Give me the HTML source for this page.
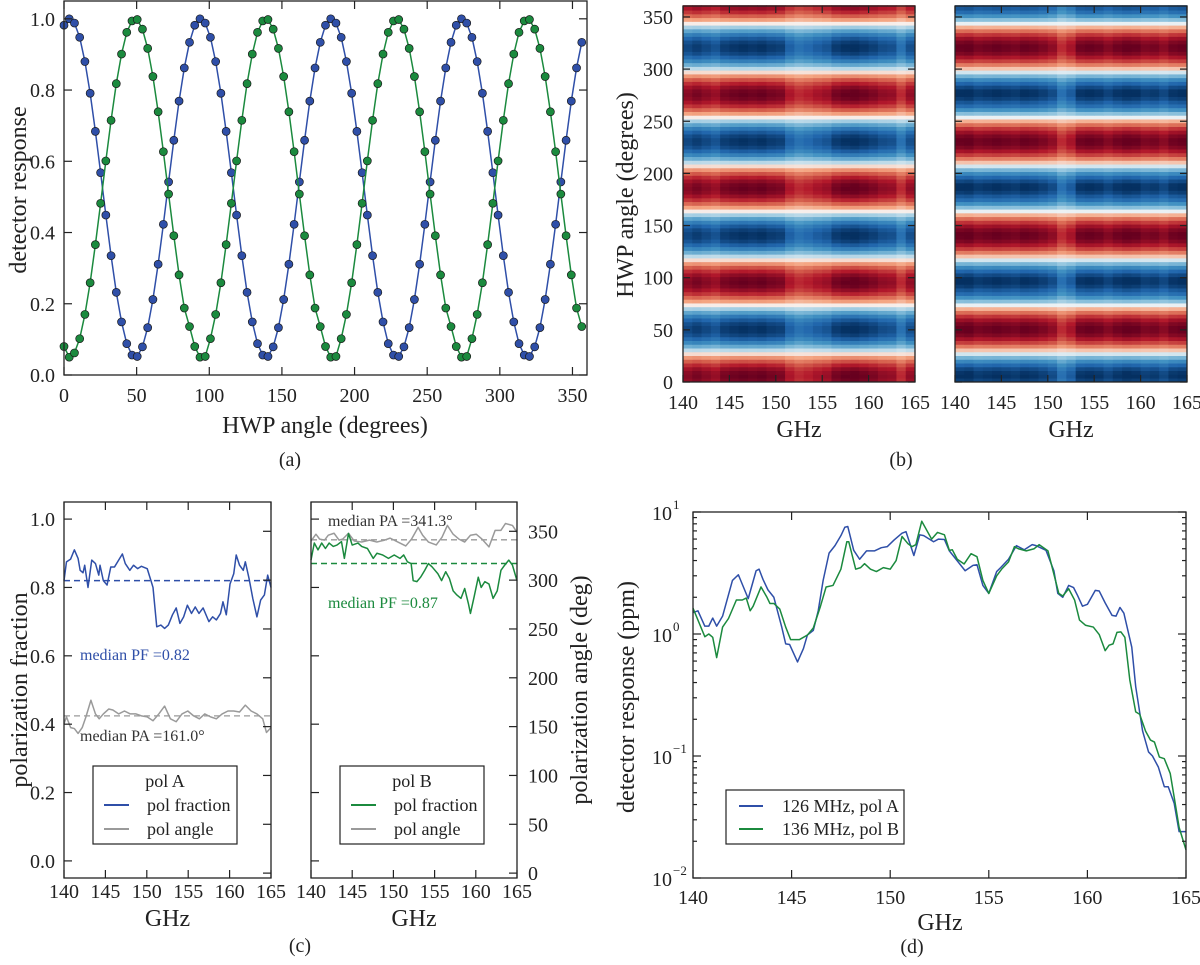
<!DOCTYPE html>
<html><head><meta charset="utf-8">
<style>
html,body{margin:0;padding:0;background:#fff;}
svg{display:block;font-family:"Liberation Serif",serif;}
</style></head>
<body>
<svg id="fig" width="1200" height="965" viewBox="0 0 1200 965" xmlns="http://www.w3.org/2000/svg"></svg>
<script>
// ---------- DATA ----------
// Panel (a): HWP angle sweep
const hwpAngles = [0,3.6,7.2,10.8,14.4,18,21.6,25.2,28.8,32.4,36,39.6,43.2,46.8,50.4,54,57.6,61.2,64.8,68.4,72,75.6,79.2,82.8,86.4,90,93.6,97.2,100.8,104.4,108,111.6,115.2,118.8,122.4,126,129.6,133.2,136.8,140.4,144,147.6,151.2,154.8,158.4,162,165.6,169.2,172.8,176.4,180,183.6,187.2,190.8,194.4,198,201.6,205.2,208.8,212.4,216,219.6,223.2,226.8,230.4,234,237.6,241.2,244.8,248.4,252,255.6,259.2,262.8,266.4,270,273.6,277.2,280.8,284.4,288,291.6,295.2,298.8,302.4,306,309.6,313.2,316.8,320.4,324,327.6,331.2,334.8,338.4,342,345.6,349.2,352.8,356.4];
const blueResp = [0.982,1.000,0.988,0.948,0.880,0.791,0.684,0.568,0.449,0.335,0.232,0.149,0.088,0.056,0.052,0.079,0.133,0.212,0.311,0.423,0.542,0.659,0.769,0.862,0.934,
0.982,1.000,0.988,0.948,0.880,0.791,0.684,0.568,0.449,0.335,0.232,0.149,0.088,0.056,0.052,0.079,0.133,0.212,0.311,0.423,0.542,0.659,0.769,0.862,0.934,
0.982,1.000,0.988,0.948,0.880,0.791,0.684,0.568,0.449,0.335,0.232,0.149,0.088,0.056,0.052,0.079,0.133,0.212,0.311,0.423,0.542,0.659,0.769,0.862,0.934,
0.982,1.000,0.988,0.948,0.880,0.791,0.684,0.568,0.449,0.335,0.232,0.149,0.088,0.056,0.052,0.079,0.133,0.212,0.311,0.423,0.542,0.659,0.769,0.862,0.934];
const greenResp = [0.080,0.050,0.062,0.102,0.170,0.259,0.366,0.482,0.601,0.715,0.818,0.901,0.962,0.994,0.998,0.971,0.917,0.838,0.739,0.627,0.508,0.391,0.281,0.188,0.136,
0.080,0.050,0.052,0.102,0.170,0.259,0.366,0.482,0.601,0.715,0.818,0.901,0.962,0.994,0.998,0.971,0.917,0.838,0.739,0.627,0.508,0.391,0.281,0.188,0.136,
0.080,0.050,0.052,0.102,0.170,0.259,0.366,0.482,0.601,0.715,0.818,0.901,0.962,0.994,0.998,0.971,0.917,0.838,0.739,0.627,0.508,0.391,0.281,0.188,0.136,
0.080,0.050,0.052,0.102,0.170,0.259,0.366,0.482,0.601,0.715,0.818,0.901,0.962,0.994,0.998,0.971,0.917,0.838,0.739,0.627,0.508,0.391,0.281,0.188,0.136];
const aXTicks = [0,50,100,150,200,250,300,350];
const aYTicks = [0.0,0.2,0.4,0.6,0.8,1.0];

// Panel (b): heatmaps, per-frequency-column amplitude
const mapFreqs = [140,141,142,143,144,145,146,147,148,149,150,151,152,153,154,155,156,157,158,159,160,161,162,163,164];
const ampA = [0.90,0.95,0.90,0.85,0.95,0.98,1.00,0.98,1.00,0.96,0.94,0.78,0.70,0.74,0.80,0.84,0.96,1.00,1.02,0.98,0.94,0.88,0.86,0.70,0.86];
const ampB = [1.00,1.02,0.96,0.98,1.00,0.98,0.96,1.00,0.98,0.94,0.88,0.70,0.80,0.98,1.00,0.98,0.92,0.98,1.02,1.00,0.94,0.96,0.90,0.98,1.00];
const bXTicks = [140,145,150,155,160,165];
const bYTicks = [0,50,100,150,200,250,300,350];

// Panel (c): polarization fraction / angle
const cFreqA = [140,140.3,140.8,141.25,141.7,141.95,142.3,142.5,142.9,143.35,143.8,144.2,144.35,144.75,145.2,145.65,146.1,146.6,147.05,147.4,147.95,148.4,148.9,149.35,150.05,150.5,150.75,151.2,151.7,152.15,152.6,153.1,153.55,154,154.45,154.9,155.4,155.85,156.3,156.8,157.5,157.95,158.4,158.9,159.2,159.6,160.05,160.5,160.8,161.2,161.65,161.9,162.35,162.8,163.3,163.75,164.2,164.6,165];
const pfA = [0.82,0.875,0.883,0.91,0.885,0.85,0.843,0.865,0.80,0.88,0.87,0.836,0.865,0.82,0.807,0.86,0.86,0.88,0.898,0.87,0.85,0.865,0.855,0.862,0.855,0.82,0.80,0.685,0.69,0.68,0.69,0.72,0.74,0.695,0.714,0.748,0.724,0.743,0.724,0.74,0.70,0.714,0.705,0.724,0.758,0.72,0.81,0.84,0.895,0.865,0.85,0.875,0.826,0.768,0.714,0.763,0.778,0.836,0.80];
const cFreqAngA = [140,140.3,140.8,141.25,141.7,142.2,142.65,143.25,143.8,144.25,144.75,145.4,145.9,146.6,147.3,148,148.7,149.35,150.05,150.75,151.45,152.15,152.85,153.55,154.25,154.95,155.65,156.35,157,157.7,158.4,159.1,159.8,160.5,161.2,161.9,162.6,163.3,164,164.45,165];
const paA = [153,160,149,148,143,149,160,177,163,158,163,168,167,163,166,163,163,161,160,156,163,171,158,155,163,166,161,158,163,160,158,163,166,166,165,172,166,163,158,144,149];
const cFreqB = [140,140.4,140.85,141.3,141.75,142.2,142.7,143.15,143.7,144.05,144.55,145,145.7,146.15,146.85,147.55,148,148.7,149.4,150.1,150.8,151.25,151.7,152.15,152.4,152.85,153.3,153.8,154.25,154.7,155.4,155.85,156.35,156.8,157.25,157.7,158.2,158.65,159.1,159.35,159.8,160.3,160.65,161.1,161.6,162.1,162.6,163.05,163.5,164,164.45,165];
const pfB = [0.88,0.93,0.91,0.93,0.914,0.93,0.92,0.924,0.934,0.885,0.958,0.924,0.93,0.92,0.914,0.885,0.90,0.895,0.885,0.895,0.885,0.895,0.875,0.87,0.82,0.817,0.83,0.85,0.87,0.86,0.84,0.82,0.846,0.826,0.79,0.778,0.768,0.797,0.753,0.724,0.773,0.83,0.80,0.817,0.81,0.768,0.79,0.85,0.865,0.88,0.865,0.82];
const cFreqAngB = [140,140.6,141.05,141.65,142.1,142.8,143.4,143.85,144.55,145.25,146.15,147.1,148,148.95,149.6,150.55,151.5,152.2,153,153.55,154.25,155.2,155.9,156.55,157.25,157.95,158.65,159.35,160.05,160.75,161.6,162.35,163.05,163.6,164.45,165];
const paB = [340,347,342,341,346,348,341,342,348,340,339,341,339,341,343,339,335,342,354,346,339,336,344,356,347,342,339,346,347,342,334,351,351,358,356,349];
const medianPFA = 0.82, medianPAA = 161.0, medianPFB = 0.87, medianPAB = 341.3;
const cXTicks = [140,145,150,155,160,165];
const cYTicks = [0.0,0.2,0.4,0.6,0.8,1.0];
const cAngTicks = [0,50,100,150,200,250,300,350];

// Panel (d): spectra (ppm)
const dFreqA = [140,140.25,140.6,140.8,141,141.2,141.5,142,142.3,142.8,143.2,143.35,143.55,143.8,144.1,144.5,144.7,144.9,145.3,145.6,145.8,146.1,146.35,146.6,146.9,147.2,147.5,147.7,147.85,148.15,148.45,148.8,149.2,149.55,149.85,150.2,150.6,150.8,151.2,151.5,151.7,152.2,152.45,152.75,153,153.8,154.2,154.4,154.7,155,155.4,155.6,156,156.4,156.8,157.2,157.4,157.9,158.3,158.5,158.75,159.05,159.3,159.5,159.75,160,160.4,160.6,160.9,161.25,161.45,161.65,161.85,162.25,162.45,162.8,163.1,163.3,163.6,163.9,164.1,164.4,164.65,165];
const respA = [1.5,1.55,1.16,1.16,1.35,1.16,1.4,2.75,3.06,1.95,3.3,3.4,2.8,2.3,2.0,1.14,0.83,0.82,0.59,0.76,0.98,1.07,1.55,2.75,4.6,5.3,6.4,7.5,7.6,4.85,4.1,4.8,4.8,5.1,5.2,5.9,6.7,6.9,4.4,6.5,6.4,5.7,6.0,5.95,4.8,3.3,3.65,3.7,2.5,2.15,3.25,3.5,4.1,5.3,4.9,5.4,5.3,4.85,3.3,2.15,2.0,2.5,2.4,2.07,1.69,1.75,2.28,2.25,1.8,1.42,1.4,1.65,1.48,0.78,0.37,0.16,0.108,0.10,0.081,0.056,0.056,0.041,0.024,0.024];
const dFreqB = [140,140.6,140.8,141,141.2,141.5,141.8,142.2,142.5,142.7,142.9,143.05,143.45,143.75,143.9,144.1,144.4,144.7,144.95,145.4,145.8,146.1,146.45,146.75,147.1,147.5,147.8,147.9,148.25,148.5,148.7,149,149.3,149.65,150,150.3,150.6,150.9,151.1,151.3,151.6,152.1,152.4,152.75,153,153.15,153.4,153.75,154.1,154.4,154.7,155,155.4,155.65,156,156.3,156.5,156.9,157.3,157.55,158,158.55,158.75,159.05,159.35,159.6,159.9,160.3,160.6,160.9,161.1,161.3,161.5,161.7,161.9,162.15,162.45,162.65,162.95,163.2,163.4,163.65,163.9,164.2,164.4,164.65,165];
const respB = [1.63,0.95,1.0,0.94,0.64,1.14,1.34,1.9,1.9,1.97,1.55,1.69,2.43,2.0,1.78,1.78,1.6,1.14,0.9,0.9,0.98,1.12,1.66,2.43,2.5,3.4,5.7,5.7,3.4,3.5,3.77,3.4,3.25,3.5,3.4,4.0,6.3,5.5,5.2,5.4,8.4,6.0,6.8,6.5,4.85,4.9,4.1,3.75,4.55,4.3,2.75,2.15,3.0,3.4,3.9,5.2,5.0,4.8,5.0,5.4,4.8,2.15,2.05,2.35,1.9,1.3,1.18,1.14,0.99,0.73,0.81,0.83,1.03,1.04,0.94,0.42,0.23,0.22,0.16,0.135,0.13,0.098,0.095,0.072,0.046,0.026,0.017];
const dXTicks = [140,145,150,155,160,165];
const dYDecades = [-2,-1,0,1];

// ---------- HELPERS ----------
const NS = 'http://www.w3.org/2000/svg';
const svg = document.getElementById('fig');
const BLUE = '#2f4fa8', GREEN = '#1b8a3e', GRAY = '#9a9a9a', INK = '#222';
function mk(tag, attrs, parent){ const e = document.createElementNS(NS, tag); for (const k in attrs) e.setAttribute(k, attrs[k]); (parent || svg).appendChild(e); return e; }
function lin(d0, d1, r0, r1){ return v => r0 + (v - d0) / (d1 - d0) * (r1 - r0); }
function txt(parent, str, x, y, size, anchor, fill){ const t = mk('text', {x: x, y: y, 'font-size': size, 'text-anchor': anchor || 'middle', fill: fill || INK}, parent); t.textContent = str; return t; }
function group(parent){ return mk('g', {}, parent); }
function polyline(parent, xs, ys, sx, sy, color, w, dash){ let d = ''; for (let i = 0; i < xs.length; i++) d += (i ? 'L' : 'M') + sx(xs[i]).toFixed(2) + ' ' + sy(ys[i]).toFixed(2); const p = mk('path', {d: d, fill: 'none', stroke: color, 'stroke-width': w, 'stroke-linejoin': 'round'}, parent); if (dash) p.setAttribute('stroke-dasharray', dash); return p; }
function frame(parent, x0, y0, x1, y1){ return mk('rect', {x: x0, y: y0, width: x1 - x0, height: y1 - y0, fill: 'none', stroke: INK, 'stroke-width': 1.3}, parent); }
function vtick(parent, x, y, len){ return mk('line', {x1: x, y1: y, x2: x, y2: y + len, stroke: INK, 'stroke-width': 1.2}, parent); }
function htick(parent, x, y, len){ return mk('line', {x1: x, y1: y, x2: x + len, y2: y, stroke: INK, 'stroke-width': 1.2}, parent); }

// ---------- PANEL A ----------
(function(){
  const g = group();
  
  
  const X0 = 64, X1 = 587, Y0 = 1, Y1 = 375;
  const sx = lin(0, 360, X0, X1), sy = lin(0, 1.05, Y1, Y0);
  mk('rect', {x: X0, y: Y0, width: X1 - X0, height: Y1 - Y0, fill: '#fff'}, g);
  const series = [[blueResp, BLUE, 'blue'], [greenResp, GREEN, 'green']];
  series.forEach(s => {
    const line = polyline(g, hwpAngles, s[0], sx, sy, s[1], 1.5);
    
    
    hwpAngles.forEach((a, i) => {
      const c = mk('circle', {cx: sx(a).toFixed(2), cy: sy(s[0][i]).toFixed(2), r: 4, fill: s[1], stroke: '#1a1a1a', 'stroke-width': 0.7}, g);
      
      
    });
  });
  frame(g, X0, Y0, X1, Y1);
  aXTicks.forEach(v => { vtick(g, sx(v), Y1, -8); vtick(g, sx(v), Y0, 8);
    const t = txt(g, String(v), sx(v), 402, 20);
    
     });
  aYTicks.forEach(v => { htick(g, X0, sy(v), 8); htick(g, X1, sy(v), -8);
    const t = txt(g, v.toFixed(1), 55, sy(v) + 7, 20, 'end');
    
     });
  const xl = txt(g, 'HWP angle (degrees)', 325, 433, 24);
  
  
  const yl = txt(g, 'detector response', 0, 0, 24);
  yl.setAttribute('transform', 'translate(26,190) rotate(-90)');
  
  
  const cap = txt(g, '(a)', 290, 466, 20);
  
  
})();

// ---------- PANEL B ----------
function rdbu(v){ // v in [-1,1], RdBu_r
  const stops = [[-1,[5,48,97]],[-0.75,[33,102,172]],[-0.5,[67,147,195]],[-0.25,[146,197,222]],[0,[247,247,247]],[0.25,[244,165,130]],[0.5,[214,96,77]],[0.75,[178,24,43]],[1,[103,0,31]]];
  v = Math.max(-1, Math.min(1, v));
  for (let i = 0; i < stops.length - 1; i++) { const a = stops[i], b = stops[i+1];
    if (v <= b[0]) { const t = (v - a[0]) / (b[0] - a[0]); const c = a[1].map((q, k) => Math.round(q + t * (b[1][k] - q))); return 'rgb(' + c.join(',') + ')'; } }
  return 'rgb(103,0,31)';
}
(function(){
  const g = group();
  
  
  const Y0 = 6, Y1 = 382;
  const sy = lin(0, 360.5, Y1, Y0);
  const maps = [[683, 915, blueResp, ampA, 'pol-a'], [955, 1187, greenResp, ampB, 'pol-b']];
  maps.forEach((m, mi) => {
    const sx = lin(140, 165, m[0], m[1]);
    const hg = group(g);
    
    
    hwpAngles.forEach((a, r) => {
      const yTop = sy(r === hwpAngles.length - 1 ? 361 : a + 3.6), yBot = sy(a);
      mapFreqs.forEach((f, c) => {
        const val = (m[2][r] - 0.525) / 0.475 * m[3][c];
        const cell = mk('rect', {x: sx(f).toFixed(2), y: (yTop - 0.3).toFixed(2), width: (sx(f + 1) - sx(f) + 0.4).toFixed(2), height: (yBot - yTop + 0.6).toFixed(2), fill: rdbu(val)}, hg);
        
        
      });
    });
    frame(g, m[0], Y0, m[1], Y1);
    bXTicks.forEach(v => { vtick(g, sx(v), Y1, -7); vtick(g, sx(v), Y0, 7);
      const t = txt(g, String(v), sx(v), 409, 20);
      
       });
    bYTicks.forEach(v => { htick(g, m[0], sy(v), 7); htick(g, m[1], sy(v), -7); });
    const gl = txt(g, 'GHz', (m[0] + m[1]) / 2, 437, 24);
    
    
  });
  bYTicks.forEach(v => { const t = txt(g, String(v), 673, sy(v) + 7, 20, 'end');
    
     });
  const yl = txt(g, 'HWP angle (degrees)', 0, 0, 24);
  yl.setAttribute('transform', 'translate(633,195) rotate(-90)');
  
  
  const cap = txt(g, '(b)', 901, 466, 20);
  
  
})();

// ---------- PANEL C ----------
(function(){
  const g = group();
  
  
  const Y0 = 502, Y1 = 878;
  const sf = lin(-0.05, 1.05, Y1, Y0), sa = lin(-5, 380, Y1, Y0);
  const axes = [
    [64, 271, cFreqA, pfA, cFreqAngA, paA, medianPFA, medianPAA, BLUE, 'pol A', 'a'],
    [311, 517, cFreqB, pfB, cFreqAngB, paB, medianPFB, medianPAB, GREEN, 'pol B', 'b']
  ];
  axes.forEach(ax => {
    const X0 = ax[0], X1 = ax[1];
    const sx = lin(140, 165, X0, X1);
    const ag = group(g);
    
    
    const pa = polyline(ag, ax[4], ax[5], sx, sa, GRAY, 1.5);
    
    
    const pad = polyline(ag, [140, 165], [ax[7], ax[7]], sx, sa, GRAY, 1.3, '6,4');
    
    
    const pf = polyline(ag, ax[2], ax[3], sx, sf, ax[8], 1.5);
    
    
    const pfd = polyline(ag, [140, 165], [ax[6], ax[6]], sx, sf, ax[8], 1.5, '6,4');
    
    
    frame(ag, X0, Y0, X1, Y1);
    cXTicks.forEach(v => { vtick(ag, sx(v), Y1, -8); vtick(ag, sx(v), Y0, 8);
      const t = txt(ag, String(v), sx(v), 898, 20);
      
       });
    cYTicks.forEach(v => htick(ag, X0, sf(v), 8));
    cAngTicks.forEach(v => htick(ag, X1, sa(v), -8));
    const gl = txt(ag, 'GHz', (X0 + X1) / 2, 926, 24);
    
    
    const lx = ax[10] === 'a' ? 93 : 340, lw = 144;
    const lg = group(ag);
    
    
    mk('rect', {x: lx, y: 766, width: lw, height: 78, fill: '#fff', stroke: INK, 'stroke-width': 1.2}, lg);
    txt(lg, ax[9], lx + 72, 787, 18);
    mk('line', {x1: lx + 11, y1: 805, x2: lx + 36, y2: 805, stroke: ax[8], 'stroke-width': 2}, lg);
    txt(lg, 'pol fraction', lx + 54, 811, 18, 'start');
    mk('line', {x1: lx + 11, y1: 829, x2: lx + 36, y2: 829, stroke: GRAY, 'stroke-width': 2}, lg);
    txt(lg, 'pol angle', lx + 54, 835, 18, 'start');
  });
  const a1 = txt(g, 'median PF =0.82', 80, 660, 16, 'start', BLUE);
  
  
  const a2 = txt(g, 'median PA =161.0°', 80, 741, 16, 'start', '#333');
  
  
  const a3 = txt(g, 'median PA =341.3°', 328, 526, 16, 'start', '#333');
  
  
  const a4 = txt(g, 'median PF =0.87', 328, 608, 16, 'start', GREEN);
  
  
  cYTicks.forEach(v => { const t = txt(g, v.toFixed(1), 55, sf(v) + 7, 20, 'end');
    
     });
  cAngTicks.forEach(v => { const t = txt(g, String(v), 528, sa(v) + 7, 20, 'start');
    
     });
  const yl = txt(g, 'polarization fraction', 0, 0, 24);
  yl.setAttribute('transform', 'translate(27,690) rotate(-90)');
  
  
  const yr = txt(g, 'polarization angle (deg)', 0, 0, 24);
  yr.setAttribute('transform', 'translate(587,690) rotate(-90)');
  
  
  const cap = txt(g, '(c)', 300, 952, 20);
  
  
})();

// ---------- PANEL D ----------
(function(){
  const g = group();
  
  
  const X0 = 693, X1 = 1186, Y0 = 512, Y1 = 878;
  const sx = lin(140, 165, X0, X1), sl = lin(-2, 1, Y1, Y0);
  const sy = v => sl(Math.log10(v));
  const la = polyline(g, dFreqA, respA, sx, sy, BLUE, 1.5);
  
  
  const lb = polyline(g, dFreqB, respB, sx, sy, GREEN, 1.5);
  
  
  frame(g, X0, Y0, X1, Y1);
  dXTicks.forEach(v => { vtick(g, sx(v), Y1, -8); vtick(g, sx(v), Y0, 8);
    const t = txt(g, String(v), sx(v), 904, 20);
    
     });
  dYDecades.forEach(d => {
    htick(g, X0, sl(d), 8); htick(g, X1, sl(d), -8);
    const t = txt(g, '10', 672, sl(d) + 8, 20, 'end');
    
    
    const s = txt(g, d < 0 ? '\u2212' + (-d) : String(d), 673, sl(d) - 3, 13, 'start');
    
    
    if (d < 1) for (let m = 2; m <= 9; m++) { const y = sl(d + Math.log10(m)); htick(g, X0, y, 4); htick(g, X1, y, -4); }
  });
  const lg = group(g);
  
  
  mk('rect', {x: 726, y: 790, width: 178, height: 54, fill: '#fff', stroke: INK, 'stroke-width': 1.2}, lg);
  mk('line', {x1: 739, y1: 806, x2: 763, y2: 806, stroke: BLUE, 'stroke-width': 2}, lg);
  txt(lg, '126 MHz,  pol A', 782, 812, 18, 'start');
  mk('line', {x1: 739, y1: 829, x2: 763, y2: 829, stroke: GREEN, 'stroke-width': 2}, lg);
  txt(lg, '136 MHz,  pol B', 782, 835, 18, 'start');
  const xl = txt(g, 'GHz', 940, 930, 24);
  
  
  const yl = txt(g, 'detector response (ppm)', 0, 0, 24);
  yl.setAttribute('transform', 'translate(634,697) rotate(-90)');
  
  
  const cap = txt(g, '(d)', 912, 953, 20);
  
  
})();
</script>
</body></html>
